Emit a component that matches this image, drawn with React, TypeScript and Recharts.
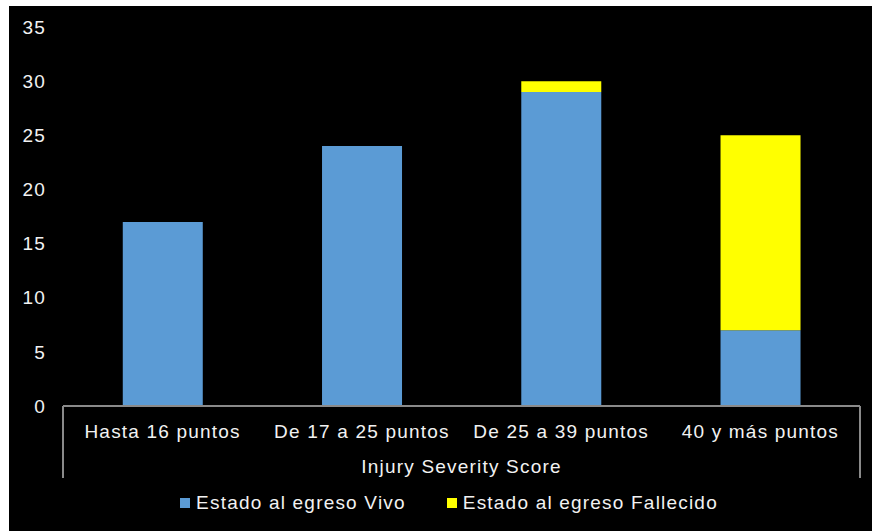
import React from 'react';
import { BarChart, Bar, XAxis, YAxis, Legend } from 'recharts';

const categories = ['Hasta 16 puntos', 'De 17 a 25 puntos', 'De 25 a 39 puntos', '40 y más puntos'];
const seriesNames = ['Estado al egreso Vivo', 'Estado al egreso Fallecido'];
const vivo = [17, 24, 29, 7];
const fallecido = [0, 0, 1, 18];
const yTicks = [0, 5, 10, 15, 20, 25, 30, 35];

const TEXT = '#f2f2f2';
const AXIS = '#8a8a8a';
const BLUE = '#5b9bd5';
const YELLOW = '#ffff00';

const rows = categories.map((name, i) => ({ name, vivo: vivo[i], fallecido: fallecido[i] }));

// category label plus the box lines of the two-level axis at both ends
const CategoryTick = (props: any) => {
    const { x, y, payload, index, visibleTicksCount } = props;
    const half = payload?.offset ?? 0;
    return (
        <g>
            <text x={x} y={y + 32} textAnchor="middle" fill={TEXT} fontSize={19}>{payload.value}</text>
            {index === 0 && <line x1={x - half} x2={x - half} y1={y} y2={y + 72} stroke={AXIS} strokeWidth={2} />}
            {index === visibleTicksCount - 1 && <line x1={x + half} x2={x + half} y1={y} y2={y + 72} stroke={AXIS} strokeWidth={2} />}
        </g>
    );
};

const LegendContent = (props: any) => {
    const items = [...(props.payload || [])].sort(
        (a: any, b: any) => seriesNames.indexOf(a.value) - seriesNames.indexOf(b.value)
    );
    return (
        <div style={{ display: 'flex', justifyContent: 'center', alignItems: 'center', gap: 41, paddingLeft: 29, height: 30 }}>
            {items.map((item: any) => (
                <div key={item.value} style={{ display: 'flex', alignItems: 'center', color: TEXT, fontSize: 19 }}>
                    <span style={{ width: 10, height: 10, background: item.color, marginRight: 6, display: 'inline-block' }} />
                    <span>{item.value}</span>
                </div>
            ))}
        </div>
    );
};

export default function App() {
    return (
        <div style={{
            position: 'absolute', left: 9, top: 6, width: 863, height: 525, background: '#000',
            fontFamily: '"Liberation Sans", Arial, sans-serif', letterSpacing: '1.2px'
        }}>
            <BarChart width={863} height={525} data={rows} margin={{ top: 21, right: 12, left: 0, bottom: 13 }} barCategoryGap="30%">
                <YAxis
                    width={54}
                    domain={[0, 35]}
                    ticks={yTicks}
                    interval={0}
                    axisLine={false}
                    tickLine={false}
                    tickMargin={11}
                    tick={{ fill: TEXT, fontSize: 19 }}
                />
                <XAxis
                    dataKey="name"
                    height={82}
                    interval={0}
                    axisLine={{ stroke: AXIS, strokeWidth: 2 }}
                    tickLine={false}
                    tickSize={0}
                    tickMargin={0}
                    tick={<CategoryTick />}
                    label={{ value: 'Injury Severity Score', position: 'insideBottom', offset: 15, fill: TEXT, fontSize: 19 }}
                />
                <Legend verticalAlign="bottom" height={30} content={<LegendContent />} />
                <Bar dataKey="vivo" name={seriesNames[0]} stackId="a" fill={BLUE} isAnimationActive={false} />
                <Bar dataKey="fallecido" name={seriesNames[1]} stackId="a" fill={YELLOW} isAnimationActive={false} />
            </BarChart>
        </div>
    );
}
